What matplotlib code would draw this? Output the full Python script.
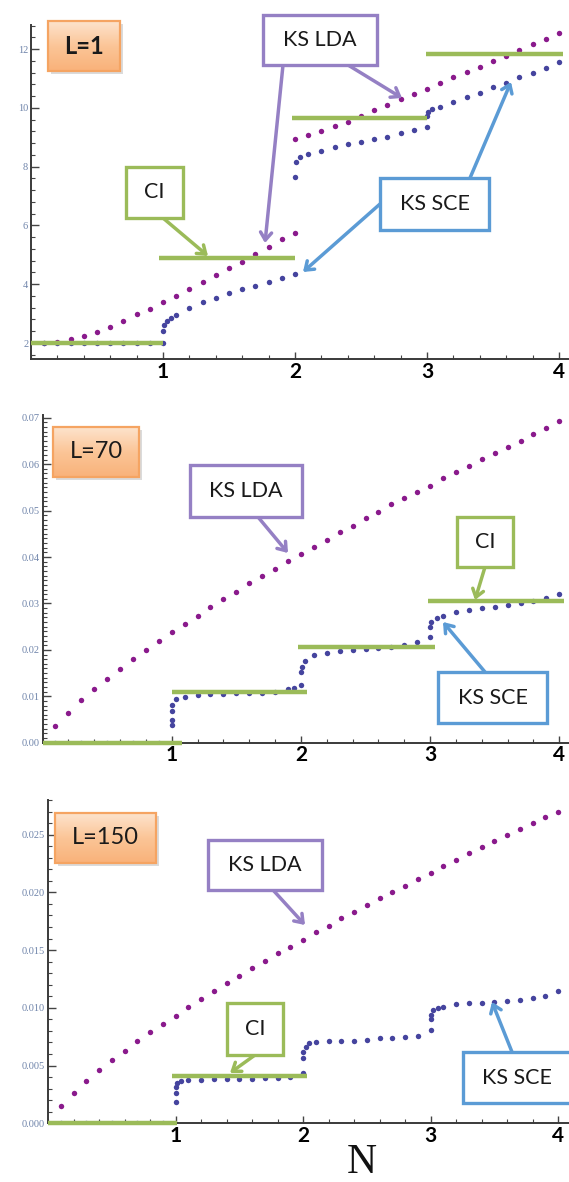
import matplotlib
matplotlib.use('Agg')
import matplotlib.pyplot as plt
import numpy as np
from matplotlib.colors import LinearSegmentedColormap
from matplotlib.patches import FancyArrowPatch, Rectangle
from matplotlib.ticker import MultipleLocator, FormatStrFormatter

W, H = 569, 1182

# ---------------- datos ----------------
n_grid = [round(0.1 * i, 1) for i in range(1, 41)]

# L=1
n_lda1 = n_grid[:20] + [2.0] + n_grid[20:]
lda1 = [2.00, 2.04, 2.12, 2.25, 2.39, 2.56, 2.76, 2.98, 3.16, 3.38,
        3.61, 3.85, 4.06, 4.31, 4.56, 4.77, 5.03, 5.28, 5.53, 5.75,
        8.93,
        9.07, 9.22, 9.38, 9.52, 9.73, 9.93, 10.11, 10.29, 10.46, 10.64,
        10.83, 11.04, 11.23, 11.40, 11.59, 11.76, 11.97, 12.17, 12.34, 12.56]
n_sce1 = [0.1, 0.2, 0.3, 0.4, 0.5, 0.6, 0.7, 0.8, 0.9,
          1.0, 1.0, 1.01, 1.03, 1.06,
          1.1, 1.2, 1.3, 1.4, 1.5, 1.6, 1.7, 1.8, 1.9, 2.0,
          2.0, 2.01, 2.04,
          2.1, 2.2, 2.3, 2.4, 2.5, 2.6, 2.7, 2.8, 2.9, 3.0,
          3.0, 3.01, 3.04,
          3.1, 3.2, 3.3, 3.4, 3.5, 3.6, 3.7, 3.8, 3.9, 4.0]
sce1 = [2.0] * 9 + [2.0, 2.41, 2.62, 2.76, 2.86,
                    2.95, 3.18, 3.38, 3.54, 3.69, 3.83, 3.95, 4.09, 4.20, 4.34,
                    7.66, 8.15, 8.32,
                    8.42, 8.54, 8.67, 8.76, 8.85, 8.93, 9.02, 9.15, 9.24, 9.36,
                    9.72, 9.85, 9.97,
                    10.04, 10.21, 10.36, 10.52, 10.70, 10.86, 11.04, 11.20, 11.37, 11.55]
ci1_ini = [0.0, 0.97, 1.98, 2.99]
ci1_fin = [1.0, 2.0, 3.0, 4.03]
ci1 = [2.0, 4.90, 9.64, 11.82]

# L=70
lda70 = [0.0036, 0.0065, 0.0091, 0.0116, 0.0138, 0.0159, 0.0180, 0.0200, 0.0220, 0.0239,
         0.0256, 0.0274, 0.0292, 0.0309, 0.0325, 0.0343, 0.0359, 0.0374, 0.0391, 0.0407,
         0.0422, 0.0437, 0.0453, 0.0467, 0.0484, 0.0498, 0.0514, 0.0527, 0.0541, 0.0554,
         0.0570, 0.0584, 0.0597, 0.0611, 0.0625, 0.0638, 0.0651, 0.0665, 0.0678, 0.0692]
n_sce70 = [0.1, 0.2, 0.3, 0.4, 0.5, 0.6, 0.7, 0.8, 0.9,
           1.0, 1.0, 1.0, 1.005, 1.03,
           1.1, 1.2, 1.3, 1.4, 1.5, 1.6, 1.7, 1.8, 1.9, 1.95, 2.0,
           2.0, 2.01, 2.03,
           2.1, 2.2, 2.3, 2.4, 2.5, 2.6, 2.7, 2.8, 2.9, 3.0,
           3.0, 3.01, 3.05,
           3.1, 3.2, 3.3, 3.4, 3.5, 3.6, 3.7, 3.8, 3.9, 4.0]
sce70 = [0.0] * 9 + [0.0038, 0.0049, 0.0068, 0.0082, 0.0094,
                     0.0099, 0.0103, 0.0104, 0.0105, 0.0106, 0.0107, 0.0108, 0.0110, 0.0115, 0.0118, 0.0124,
                     0.0153, 0.0164, 0.0175,
                     0.0189, 0.0194, 0.0198, 0.0200, 0.0202, 0.0204, 0.0206, 0.0210, 0.0218, 0.0227,
                     0.0249, 0.0261, 0.0269,
                     0.0273, 0.0282, 0.0286, 0.0290, 0.0293, 0.0297, 0.0300, 0.0305, 0.0311, 0.0320]
ci70_ini = [0.0, 1.0, 1.98, 2.98]
ci70_fin = [1.08, 2.05, 3.04, 4.04]
ci70 = [0.0, 0.0110, 0.0207, 0.0306]

# L=150
lda150 = [0.0015, 0.00265, 0.00367, 0.00462, 0.00549, 0.00629, 0.00713, 0.00788, 0.0086, 0.00933,
          0.01005, 0.01077, 0.01146, 0.01213, 0.01276, 0.01343, 0.01406, 0.01473, 0.0153, 0.01588,
          0.01655, 0.01712, 0.01776, 0.01834, 0.01892, 0.0195, 0.02002, 0.02059, 0.02114, 0.02172,
          0.0223, 0.02282, 0.0234, 0.02397, 0.02446, 0.02498, 0.0255, 0.02605, 0.02652, 0.0270]
n_sce150 = [0.1, 0.2, 0.3, 0.4, 0.5, 0.6, 0.7, 0.8, 0.9,
            1.0, 1.0, 1.003, 1.01, 1.04,
            1.1, 1.2, 1.3, 1.4, 1.5, 1.6, 1.7, 1.8, 1.9, 2.0,
            2.0, 2.0, 2.02, 2.05,
            2.1, 2.2, 2.3, 2.4, 2.5, 2.6, 2.7, 2.8, 2.9, 3.0,
            3.0, 3.0, 3.02, 3.06,
            3.1, 3.2, 3.3, 3.4, 3.5, 3.6, 3.7, 3.8, 3.9, 4.0]
sce150 = [0.0] * 9 + [0.00187, 0.0026, 0.00317, 0.0035, 0.00367,
                      0.00375, 0.00378, 0.0038, 0.0038, 0.0038, 0.0038, 0.0039, 0.0039, 0.0040, 0.00433,
                      0.00563, 0.0062, 0.00664, 0.00693,
                      0.00707, 0.0071, 0.00713, 0.00716, 0.0072, 0.00736, 0.0074, 0.00745, 0.00759, 0.00809,
                      0.0090, 0.00938, 0.00982, 0.0100,
                      0.0101, 0.01031, 0.0104, 0.01045, 0.01054, 0.01062, 0.01068, 0.01083, 0.01103, 0.01146]
ci150_ini = [0.0, 0.97]
ci150_fin = [1.01, 2.03]
ci150 = [0.0, 0.0041]

# ---------------- estilo ----------------
C_LDA = '#8a1a8c'
C_SCE = '#45449e'
C_CI = '#9bbb59'
C_PUR = '#9580c4'
C_BLU = '#5b9bd5'
C_ORA = '#f5a462'
FUENTE = ['Lato', 'DejaVu Sans']
NARANJA = LinearSegmentedColormap.from_list('naranja', ['#fde3cc', '#fbc597', '#f9b27a'])

fig = plt.figure(figsize=(W / 100, H / 100), dpi=100)


def rect_px(l, t, r, b):
    return [l / W, 1 - b / H, (r - l) / W, (b - t) / H]


def f_fig(x, y):
    return (x / W, 1 - y / H)


def f_panel(rect, xmax, ylim, ymaj, ymin, fmt, n_lda, lda, n_sce, sce, ini, fin, ci):
    ax = fig.add_axes(rect_px(*rect))
    ax.plot(n_lda, lda, 'o', color=C_LDA, ms=3.9, mew=0, zorder=3)
    ax.plot(n_sce, sce, 'o', color=C_SCE, ms=3.9, mew=0, zorder=3)
    for a, b, v in zip(ini, fin, ci):
        ax.plot([a, b], [v, v], color=C_CI, lw=3.2, solid_capstyle='butt', zorder=4, clip_on=False)
    ax.set_xlim(0, xmax)
    ax.set_ylim(*ylim)
    for s in ['top', 'right']:
        ax.spines[s].set_visible(False)
    for s in ['left', 'bottom']:
        ax.spines[s].set_color('#3a3a3a')
        ax.spines[s].set_linewidth(1.4)
    ax.xaxis.set_major_locator(MultipleLocator(1))
    ax.xaxis.set_minor_locator(MultipleLocator(0.2))
    ax.yaxis.set_major_locator(MultipleLocator(ymaj))
    ax.yaxis.set_minor_locator(MultipleLocator(ymin))
    ax.yaxis.set_major_formatter(FormatStrFormatter(fmt))
    ax.set_xticks([1, 2, 3, 4])
    ax.set_xticklabels(['1', '2', '3', '4'], fontsize=15, fontweight='bold', family=FUENTE)
    ax.tick_params(axis='both', which='both', direction='in', color='#444444')
    ax.tick_params(axis='x', which='major', length=5, width=1, pad=2)
    ax.tick_params(axis='x', which='minor', length=3, width=0.8)
    ax.tick_params(axis='y', which='major', length=6, width=1, pad=2,
                   labelsize=7.5, labelcolor='#6f84aa')
    ax.tick_params(axis='y', which='minor', length=3, width=0.8)
    for t in ax.get_yticklabels():
        t.set_family(['Liberation Serif', 'DejaVu Serif'])
    return ax


def f_caja(l, t, r, b, texto, color, size=15.5, bold=False, naranja=False):
    if naranja:
        fig.patches.append(Rectangle(f_fig(l + 3, b + 3), (r - l) / W, (b - t) / H,
                                     transform=fig.transFigure, facecolor='#b0b0b0',
                                     edgecolor='none', alpha=0.45, zorder=5))
        axg = fig.add_axes(rect_px(l, t, r, b), zorder=6)
        axg.imshow(np.linspace(0, 1, 50).reshape(-1, 1), aspect='auto', cmap=NARANJA,
                   extent=(0, 1, 1, 0))
        axg.set_axis_off()
        fig.patches.append(Rectangle(f_fig(l, b), (r - l) / W, (b - t) / H,
                                     transform=fig.transFigure, facecolor='none',
                                     edgecolor=color, lw=1.6, zorder=7))
        fig.text((l + r) / 2 / W, 1 - (t + b) / 2 / H, texto, ha='center', va='center',
                 fontsize=size, fontweight='bold' if bold else 'normal', family=FUENTE,
                 color='#1a1a1a', zorder=8)
        return
    fig.patches.append(Rectangle(f_fig(l, b), (r - l) / W, (b - t) / H,
                                 transform=fig.transFigure, facecolor='white',
                                 edgecolor=color, lw=2.4, zorder=6))
    fig.text((l + r) / 2 / W, 1 - (t + b) / 2 / H, texto, ha='center', va='center',
             fontsize=size, fontweight='bold' if bold else 'normal', family=FUENTE,
             color='#1a1a1a', zorder=7)


def f_flecha(x0, y0, x1, y1, color):
    fig.patches.append(FancyArrowPatch(f_fig(x0, y0), f_fig(x1, y1), transform=fig.transFigure,
                                       arrowstyle='->,head_length=5.5,head_width=4',
                                       color=color, lw=2.5, zorder=6,
                                       shrinkA=0, shrinkB=0))


# ---------------- paneles ----------------
f_panel((31, 25, 569, 359), 4.076, (1.456, 12.82), 2, 0.4, '%d',
        n_lda1, lda1, n_sce1, sce1, ci1_ini, ci1_fin, ci1)
f_panel((42.5, 415, 569, 742.7), 4.075, (0, 0.0706), 0.01, 0.001, '%.2f',
        n_grid, lda70, n_sce70, sce70, ci70_ini, ci70_fin, ci70)
f_panel((48, 800, 569, 1123.3), 4.086, (0, 0.028), 0.005, 0.001, '%.3f',
        n_grid, lda150, n_sce150, sce150, ci150_ini, ci150_fin, ci150)

# ---------------- anotaciones ----------------
# L=1
f_caja(48, 21, 120, 71, 'L=1', C_ORA, size=17, bold=True, naranja=True)
f_flecha(283, 65, 265, 243, C_PUR)
f_flecha(348, 65, 402, 98, C_PUR)
f_caja(263, 15, 377, 65, 'KS LDA', C_PUR)
f_flecha(163, 218, 208, 256, C_CI)
f_caja(126, 167, 183, 218, 'CI', C_CI)
f_flecha(380, 204, 303, 272, C_BLU)
f_flecha(470, 178, 511, 82, C_BLU)
f_caja(380, 178, 489, 230, 'KS SCE', C_BLU)

# L=70
f_caja(53, 427, 139, 477, 'L=70', C_ORA, size=17, naranja=True)
f_flecha(258, 517, 288, 553, C_PUR)
f_caja(190, 465, 302, 517, 'KS LDA', C_PUR)
f_flecha(485, 567, 475, 600, C_CI)
f_caja(457, 517, 513, 567, 'CI', C_CI)
f_flecha(485, 672, 443, 622, C_BLU)
f_caja(438, 672, 547, 723, 'KS SCE', C_BLU)

# L=150
f_caja(55, 813, 156, 863, 'L=150', C_ORA, size=17, naranja=True)
f_flecha(273, 890, 305, 925, C_PUR)
f_caja(208, 840, 322, 890, 'KS LDA', C_PUR)
f_flecha(255, 1055, 230, 1073, C_CI)
f_caja(227, 1003, 283, 1055, 'CI', C_CI)
f_flecha(512, 1052, 492, 1002, C_BLU)
f_caja(463, 1052, 572, 1103, 'KS SCE', C_BLU)

fig.text(362 / W, 1 - 1163 / H, 'N', ha='center', va='center', fontsize=30,
         family=['Liberation Serif', 'DejaVu Serif'], color='#111111')

fig.savefig('out.png', dpi=100)
